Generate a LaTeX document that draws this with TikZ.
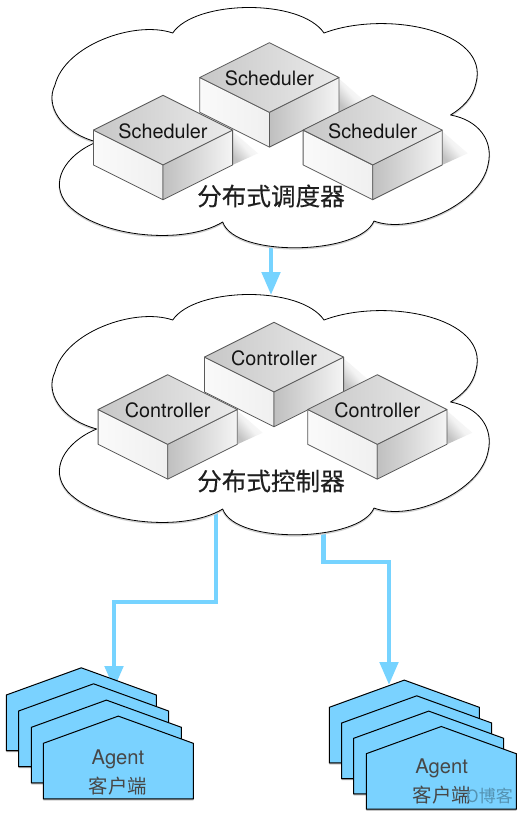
\documentclass[tikz,border=0pt]{standalone}
\usepackage{fontspec}
\setmainfont{TeX Gyre Heros}
\newfontfamily\cjkfont{Noto Sans CJK SC}
\newfontfamily\cjkcapfont[FakeBold=0.35]{Noto Sans CJK SC}
\usetikzlibrary{arrows.meta,calc}
\definecolor{flow}{HTML}{76D3FF}
\definecolor{agentfill}{HTML}{7AD2FF}
\definecolor{edgegray}{HTML}{5A5A5A}
\tikzset{
  cloudline/.style={draw=black,line width=0.8pt,fill=white,line join=round},
  cloudhalo/.style={draw=black!18,line width=1.6pt},
  flowline/.style={draw=flow,line width=4.8pt,-{Triangle[length=23pt,width=18pt,color=flow]}},
  boxedge/.style={draw=edgegray,line width=0.8pt,line join=round},
  topface/.style={boxedge,left color=black!22,right color=black!8},
  leftface/.style={boxedge,left color=black!2,right color=black!6},
  rightface/.style={boxedge,left color=black!25,right color=black!4},
  castshadow/.style={top color=white,bottom color=black!24,middle color=black!5,shading angle=-50,draw=none},
  boxlabel/.style={font=\fontsize{19.8}{24}\selectfont,text=black!92,inner sep=0pt},
  groupcaption/.style={font=\cjkcapfont\fontsize{24.6}{28}\selectfont,text=black!88,inner sep=0pt},
  agentbody/.style={draw=black,line width=1pt,fill=agentfill,line join=miter},
  agentlabel/.style={font=\fontsize{20.2}{24}\selectfont,text=black!72,inner sep=0pt},
  agentcjk/.style={font=\cjkfont\fontsize{19.4}{24}\selectfont,text=black!72,inner sep=0pt},
  watermark/.style={font=\cjkfont\fontsize{17}{20}\selectfont,text=agentfill!70!black,inner sep=0pt},
  anchorbox/.style={inner sep=0pt,minimum width=#1,minimum height=1pt}
}
% cloud outline, y offset #1
\newcommand{\cloudpath}[1]{
  (172.7,33+#1)
  .. controls (195,0+#1) and (300,-2+#1) .. (324,33+#1)
  .. controls (385,10+#1) and (490,30+#1) .. (476,83+#1)
  .. controls (473,98+#1) and (462,108+#1) .. (450.5,115+#1)
  .. controls (478,120+#1) and (494,140+#1) .. (488,165+#1)
  .. controls (480,205+#1) and (410,235+#1) .. (374,221+#1)
  .. controls (360,255+#1) and (235,258+#1) .. (222.7,222+#1)
  .. controls (185,245+#1) and (100,238+#1) .. (68,205+#1)
  .. controls (48,183+#1) and (65,155+#1) .. (96.7,142+#1)
  .. controls (60,132+#1) and (45,105+#1) .. (55,85+#1)
  .. controls (65,45+#1) and (135,20+#1) .. (172.7,33+#1)
  -- cycle
}
% isometric box with apex at (#1,#2)
\newcommand{\isobox}[3]{
  \path[castshadow] (#1+69.6,#2+36) -- (#1+95,#2+58) -- (#1+69.6,#2+69.6) -- cycle;
  \path[leftface] (#1-69.6,#2+34.8) -- (#1,#2+69.6) -- (#1,#2+104.4) -- (#1-69.6,#2+69.6) -- cycle;
  \path[rightface] (#1,#2+69.6) -- (#1+69.6,#2+34.8) -- (#1+69.6,#2+69.6) -- (#1,#2+104.4) -- cycle;
  \path[topface] (#1,#2) -- (#1+69.6,#2+34.8) -- (#1,#2+69.6) -- (#1-69.6,#2+34.8) -- cycle;
  \node[boxlabel] at (#1,#2+36) {#3};
}
% agent polygon: left x #1, shoulder y #2
\newcommand{\agentshape}[2]{
  \fill[black!35] (#1,#2+2) -- (#1+75,#2-25.7) -- (#1+150,#2+2) -- (#1+150,#2+57) -- (#1,#2+57) -- cycle;
  \path[agentbody] (#1,#2) -- (#1+75,#2-27.2) -- (#1+150,#2) -- (#1+150,#2+55.5) -- (#1,#2+55.5) -- cycle;
}
\begin{document}
\begin{tikzpicture}[x=1pt,y=-1pt]
\useasboundingbox (0,0) rectangle (522,815);
\fill[white] (0,0) rectangle (522,815);

% anchors for the connectors
\node[anchorbox=2pt] (sched) at (271,240) {};
\node[anchorbox=2pt] (ctrl) at (271,295) {};
\node[anchorbox=2pt] (ctrlL) at (216,505) {};
\node[anchorbox=2pt] (ctrlR) at (323.5,525) {};
\node[anchorbox=2pt] (agentsL) at (114,689) {};
\node[anchorbox=2pt] (agentsR) at (389,685) {};

% connectors (their starts are hidden by the clouds)
\draw[flowline] (sched.center) -- (ctrl.center);
\draw[flowline] (ctrlL.center) -- (ctrlL.center |- 0,602) -| (agentsL.center);
\draw[flowline] (ctrlR.center) -- (ctrlR.center |- 0,562) -| (agentsR.center);

% clouds
\path[cloudhalo] \cloudpath{1};
\path[cloudline] \cloudpath{0};
\path[cloudhalo] \cloudpath{288};
\path[cloudline] \cloudpath{287};

% scheduler group
\isobox{269.4}{42.7}{Scheduler}
\isobox{163}{95.3}{Scheduler}
\isobox{372.7}{95.3}{Scheduler}
\node[groupcaption] (capS) at (271,196) {分布式调度器};

% controller group
\isobox{274}{322.3}{Controller}
\isobox{167.7}{374.7}{Controller}
\isobox{377.3}{374.7}{Controller}
\node[groupcaption] (capC) at (271,481) {分布式控制器};

% left agents
\agentshape{6.3}{695}
\agentshape{18.6}{711}
\agentshape{31.4}{727.3}
\agentshape{43.3}{743.3}
\node[agentlabel] (a1) at (118,759.5) {Agent};
\node[agentcjk] (a1c) at (118,786) {客户端};

% right agents
\agentshape{329.3}{707.3}
\agentshape{341.7}{723}
\agentshape{353.7}{738.3}
\agentshape{366.3}{753.7}
\node[agentlabel] (a2) at (441.7,768.5) {Agent};
\node[agentcjk] (a2c) at (441.7,795) {客户端};
\node[watermark,anchor=east] (wm) at (513,796) {O博客};
\end{tikzpicture}
\end{document}
